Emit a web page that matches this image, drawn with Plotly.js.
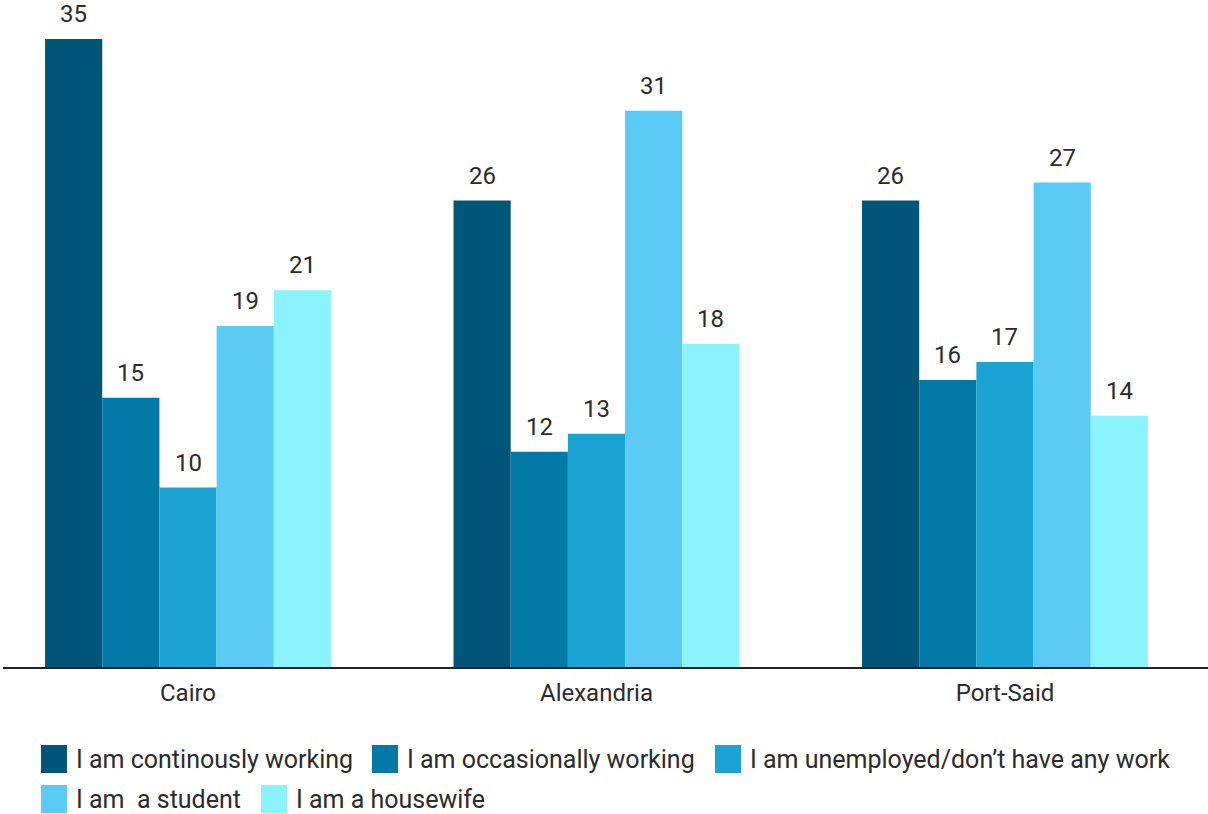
<!DOCTYPE html>
<html>
<head>
<meta charset="utf-8">
<script src="https://cdn.plot.ly/plotly-3.0.1.min.js"></script>
<style>html,body{margin:0;padding:0;background:#fff;}#chart{width:1208px;height:814px;}</style>
</head>
<body>
<div id="chart"></div>
<script>
const cities = ["Cairo", "Alexandria", "Port-Said"];
const seriesNames = ["I am continously working", "I am occasionally working", "I am unemployed/don\u2019t have any work", "I am  a student", "I am a housewife"];
const continuouslyWorking = [35, 26, 26];
const occasionallyWorking = [15, 12, 16];
const unemployed = [10, 13, 17];
const student = [19, 31, 27];
const housewife = [21, 18, 14];
const seriesValues = [continuouslyWorking, occasionallyWorking, unemployed, student, housewife];
const colors = ["#02567A", "#0279A7", "#1BA3D1", "#5BCBF6", "#8BF3FD"];

const W = 1208, H = 814;
const M = {l: 3, r: 0, t: 20, b: 147};
const pw = W - M.l - M.r, ph = H - M.t - M.b;
const px2x = p => (p - M.l) / pw;
const py2y = p => (H - M.b - p) / ph;
const xr = [-0.4529, 2.497];
const BARGAP = 0.3;
const pxPerCat = pw / (xr[1] - xr[0]);
const barPx = pxPerCat * (1 - BARGAP) / seriesNames.length;

const FONT = "Roboto, 'Open Sans', sans-serif";
const TXT = "#2b2b2b";
const traces = seriesNames.map((n, i) => ({
  type: "bar",
  name: n,
  x: cities,
  y: seriesValues[i],
  marker: {color: colors[i], line: {width: 0}},
  hoverinfo: "x+y+name"
}));

const shapes = [], annotations = [];
// value labels
seriesValues.forEach((vals, i) => {
  vals.forEach((v, j) => {
    annotations.push({xref: "x", yref: "y", x: cities[j], y: v,
      xshift: (i - (seriesNames.length - 1) / 2) * barPx, yshift: 9,
      xanchor: "center", yanchor: "bottom", showarrow: false, text: String(v),
      font: {family: FONT, size: 24, color: TXT}});
  });
});
// manual legend
const legendItems = [
  {sx: 41, y: 759, i: 0},
  {sx: 372, y: 759, i: 1},
  {sx: 715, y: 759, i: 2},
  {sx: 41, y: 799, i: 3},
  {sx: 261, y: 799, i: 4}
];
legendItems.forEach(it => {
  shapes.push({type: "rect", xref: "paper", yref: "paper",
    x0: px2x(it.sx), x1: px2x(it.sx + 26), y0: py2y(it.y + 14), y1: py2y(it.y - 14),
    fillcolor: colors[it.i], line: {width: 0}});
  annotations.push({xref: "paper", yref: "paper", x: px2x(it.sx + 33), y: py2y(it.y),
    xanchor: "left", yanchor: "middle", showarrow: false, text: seriesNames[it.i],
    font: {family: FONT, size: 25, color: TXT}});
});

const layout = {
  width: W, height: H,
  margin: M,
  paper_bgcolor: "#fff", plot_bgcolor: "#fff",
  barmode: "group",
  bargap: BARGAP, bargroupgap: 0,
  showlegend: false,
  xaxis: {type: "category", range: xr, showline: true, linecolor: "#222", linewidth: 2,
    ticks: "", tickfont: {family: FONT, size: 24, color: TXT}, showgrid: false, zeroline: false,
    ticklabelstandoff: 3},
  yaxis: {range: [0, 36.06], visible: false, showgrid: false, zeroline: false},
  shapes: shapes,
  annotations: annotations,
  font: {family: FONT}
};
Plotly.newPlot("chart", traces, layout, {displayModeBar: false, staticPlot: true});
</script>
</body>
</html>
